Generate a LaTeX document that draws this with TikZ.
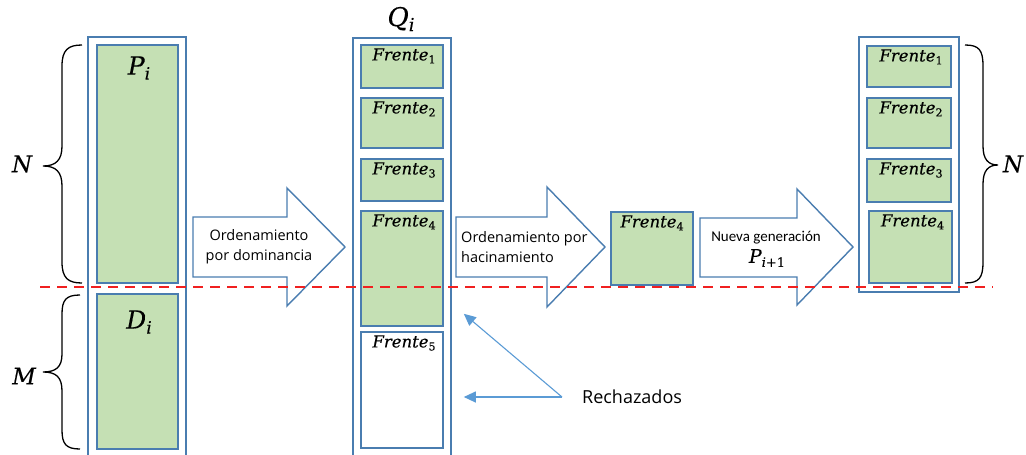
\documentclass[tikz,border=0pt]{standalone}
\usepackage{fontspec}
\newfontfamily\calibri{Carlito}
\newfontfamily\uisans{Open Sans}
\newfontfamily\eqfont{DejaVu Serif}[FakeBold=0.35]
\usetikzlibrary{arrows.meta,fit}
\definecolor{boxblue}{HTML}{4A7DB0}
\definecolor{boxgreen}{HTML}{C5E0B4}
\definecolor{callout}{HTML}{5B9BD5}
\definecolor{cutline}{HTML}{F02020}
% italic symbol with a lowered index: size, index size, drop, symbol, index
\newcommand\mlabel[5]{{\fontsize{#1}{#1}\selectfont\eqfont\itshape #4}\raisebox{-#3}{\fontsize{#2}{#2}\selectfont\eqfont #5}}
\newcommand\frente[1]{\mlabel{16.5}{11}{3pt}{Frente}{#1}}
\tikzset{
  colbox/.style={draw=boxblue, line width=1.6pt, fill=white, inner sep=0pt},
  front/.style={draw=boxblue, line width=1.6pt, fill=boxgreen, inner sep=0pt},
  rejbox/.style={draw=boxblue, line width=1.6pt, fill=white, inner sep=0pt},
  blockarrow/.style={draw=boxblue, line width=1.4pt, fill=white, line join=miter},
  flabel/.style={inner sep=0pt, anchor=north},
  biglabel/.style={inner sep=0pt},
  arrowtext/.style={font=\uisans\fontsize{14.5}{20}\selectfont, inner sep=0pt, align=center},
  brace/.style={draw=black, line width=1.3pt},
  cut/.style={draw=cutline, line width=1.8pt, dash pattern=on 10pt off 7pt},
  pointer/.style={draw=callout, line width=1.1pt, -{Triangle[length=12pt,width=11pt]}}
}
\begin{document}
\begin{tikzpicture}[x=1pt,y=-1pt]
\useasboundingbox (0,0) rectangle (1026,455);
\clip (0,0) rectangle (1026,455);

% population P_i together with offspring D_i
\node[colbox, fit={(88,37) (186,470)}] (pd) {};
\node[front, fit={(97,45) (178,283)}] (p) {};
\node[front, fit={(97,294) (178,449)}] (d) {};
\node[biglabel] (pl) at (139,68) {\mlabel{25}{17}{5pt}{P}{\itshape i}};
\node[biglabel] (dl) at (139,322) {\mlabel{25}{17}{5pt}{D}{\itshape i}};

% braces N and M
\draw[brace] (82,45) .. controls (68,45) and (62,50) .. (62,66) -- (62,146)
  .. controls (62,160) and (56,166) .. (43,166) .. controls (56,166) and (62,172) .. (62,186)
  -- (62,262) .. controls (62,278) and (68,283) .. (82,283);
\draw[brace] (80,295) .. controls (66,295) and (62,300) .. (62,314) -- (62,354)
  .. controls (62,367) and (56,372) .. (43,372) .. controls (56,372) and (62,377) .. (62,391)
  -- (62,430) .. controls (62,444) and (66,449) .. (80,449);
\node[biglabel] (nl) at (22,164) {\fontsize{23}{23}\selectfont\eqfont\itshape N};
\node[biglabel] (ml) at (24,376) {\fontsize{23}{23}\selectfont\eqfont\itshape M};

% sorting by dominance
\draw[blockarrow] (193,217) -- (287,217) -- (287,188) -- (345,247) -- (287,306) -- (287,277) -- (193,277) -- cycle;
\node[arrowtext] (a1) at (259,247) {Ordenamiento\\por dominancia};

% union Q_i split into fronts
\node[biglabel] (ql) at (401,19) {\mlabel{26}{18}{5pt}{Q}{\itshape i}};
\node[colbox, fit={(353,38) (451,470)}] (q) {};
\node[front, fit={(361,45) (443,88)}] (q1) {};
\node[front, fit={(361,98) (443,148)}] (q2) {};
\node[front, fit={(361,159) (443,201)}] (q3) {};
\node[front, fit={(361,211) (443,326)}] (q4) {};
\node[rejbox, fit={(361,332) (443,448)}] (q5) {};
\node[flabel] (q1l) at ([xshift=2pt,yshift=-4pt]q1.north) {\frente{1}};
\node[flabel] (q2l) at ([xshift=2pt,yshift=-4pt]q2.north) {\frente{2}};
\node[flabel] (q3l) at ([xshift=2pt,yshift=-4pt]q3.north) {\frente{3}};
\node[flabel] (q4l) at ([xshift=2pt,yshift=-4pt]q4.north) {\frente{4}};
\node[flabel] (q5l) at ([xshift=2pt,yshift=-4pt]q5.north) {\frente{5}};

% sorting by crowding distance
\draw[blockarrow] (456,217) -- (547,217) -- (547,187) -- (605,247) -- (547,307) -- (547,277) -- (456,277) -- cycle;
\node[arrowtext, align=left, anchor=west] (a2) at (461,247) {Ordenamiento por\\hacinamiento};

% partially accepted front
\node[front, fit={(611,212) (693,285)}] (f4) {};
\node[flabel] (f4l) at ([yshift=-4pt]f4.north) {\frente{4}};

% new generation
\draw[blockarrow] (700,218) -- (797,218) -- (797,189) -- (853,247) -- (797,305) -- (797,277) -- (700,277) -- cycle;
\node[arrowtext, font=\calibri\fontsize{15}{17}\selectfont] (a3) at (766,238) {Nueva generación};
\node[biglabel] (pnext) at (767,258) {\mlabel{19}{13}{4pt}{P}{\itshape i\upshape+1}};

% next population
\node[colbox, fit={(859,37) (959,292)}] (r) {};
\node[front, fit={(867,46) (951,87)}] (r1) {};
\node[front, fit={(867,98) (951,148)}] (r2) {};
\node[front, fit={(867,159) (951,202)}] (r3) {};
\node[front, fit={(869,211) (952,283)}] (r4) {};
\node[flabel] (r1l) at ([xshift=2pt,yshift=-4pt]r1.north) {\frente{1}};
\node[flabel] (r2l) at ([xshift=2pt,yshift=-4pt]r2.north) {\frente{2}};
\node[flabel] (r3l) at ([xshift=2pt,yshift=-4pt]r3.north) {\frente{3}};
\node[flabel] (r4l) at ([xshift=2pt,yshift=-4pt]r4.north) {\frente{4}};

\draw[brace] (965,45) .. controls (979,45) and (983,50) .. (983,66) -- (983,146)
  .. controls (983,159) and (988,165) .. (998,165) .. controls (988,165) and (983,171) .. (983,184)
  -- (983,262) .. controls (983,278) and (979,283) .. (965,283);
\node[biglabel] (nr) at (1013,164) {\fontsize{23}{23}\selectfont\eqfont\itshape N};

% size limit of the population
\draw[cut] (40,287) -- (993,287);

% rejected individuals
\node[anchor=west, inner sep=0pt, font=\uisans\fontsize{18}{20}\selectfont] (rej) at (582,397) {Rechazados};
\coordinate (rv) at (562,397);
\coordinate (t1) at ([xshift=12pt,yshift=13pt]q.east |- q4.south);
\coordinate (t2) at ([xshift=12pt]q.east |- rv);
\draw[pointer] (rv) -- (t1);
\draw[pointer] (rv) -- (t2);
\end{tikzpicture}
\end{document}
